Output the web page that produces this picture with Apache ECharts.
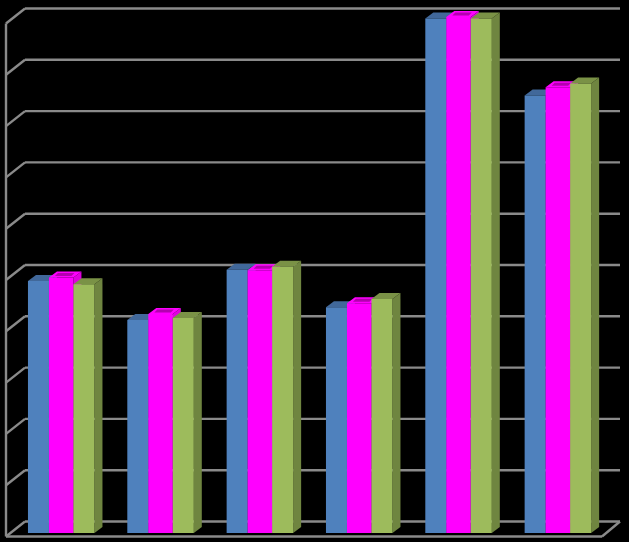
<!DOCTYPE html>
<html><head><meta charset="utf-8">
<style>html,body{margin:0;padding:0;background:#000}#c{width:629px;height:542px}</style>
<script src="https://cdn.jsdelivr.net/npm/echarts@6/dist/echarts.min.js"></script>
</head><body><div id="c"></div>
<script>
const categories = ['1','2','3','4','5','6'];
const seriesBlue = [49.1, 41.5, 51.3, 44.0, 100.3, 85.3];
const seriesMagenta = [49.8, 42.7, 51.2, 44.8, 100.6, 86.9];
const seriesGreen = [48.5, 41.9, 51.9, 45.6, 100.3, 87.6];
const gridTicks = [0,10,20,30,40,50,60,70,80,90,100];

const LINE = '#8a8a8a';
const DX = 8, DY = 6;
const WALL = {dx: 19, back: -11.5, front: 3.5};

function barItem(off, w, front, side, cap, inner) {
  return function (params, api) {
    const c = api.coord([api.value(0), 0]);
    const t = api.coord([api.value(0), api.value(1)]);
    const x0 = c[0] + off, x1 = x0 + w, yb = c[1], yt = t[1];
    const ch = [
      {type:'polygon', shape:{points:[[x1,yb],[x1+DX,yb-DY],[x1+DX,yt-DY],[x1,yt]]}, style:{fill:side}},
      {type:'polygon', shape:{points:[[x0,yt],[x0+DX,yt-DY],[x1+DX,yt-DY],[x1,yt]]}, style:{fill:cap}}
    ];
    if (inner) ch.push({type:'polygon', shape:{points:[[x0+6,yt-1.5],[x0+9,yt-4.5],[x1+1,yt-4.5],[x1-2,yt-1.5]]}, style:{fill:inner}});
    ch.push({type:'rect', shape:{x:x0,y:yt,width:w,height:yb-yt}, style:{fill:front}});
    return {type:'group', children:ch};
  };
}
function barSeries(vals, off, w, front, side, cap, inner, z) {
  return {type:'custom', z, silent:true, clip:false,
    data: vals.map((v,i)=>[categories[i], v]),
    encode:{x:0,y:1},
    renderItem: barItem(off,w,front,side,cap,inner)};
}
const wall = {
  type:'custom', z:1, silent:true, clip:false,
  data: gridTicks.map(t=>[categories[0], t]),
  encode:{x:0,y:1},
  renderItem(params, api){
    const y = api.coord([categories[0], api.value(1)])[1];
    const L = 6, R = 602;
    const ln = (a,b)=>({type:'line', shape:{x1:a[0],y1:a[1],x2:b[0],y2:b[1]}, style:{stroke:LINE,lineWidth:2.4}});
    const ch = [
      ln([L,y+WALL.front],[L+WALL.dx,y+WALL.back]),
      ln([L+WALL.dx,y+WALL.back],[R+WALL.dx-1,y+WALL.back])
    ];
    if (api.value(1) === 0) {
      ch.push(ln([L,y+WALL.front],[R,y+WALL.front]));
      ch.push(ln([R,y+WALL.front],[R+WALL.dx-1,y+WALL.back]));
    }
    if (api.value(1) === 100) {
      const y0 = api.coord([categories[0], 0])[1];
      ch.push(ln([L,y+WALL.front],[L,y0+WALL.front]));
    }
    return {type:'group', children:ch};
  }
};
const chart = echarts.init(document.getElementById('c'), null, {renderer:'canvas'});
chart.setOption({
  animation:false,
  backgroundColor:'#000',
  grid:{left:6, right:27, top:20, bottom:9},
  xAxis:{type:'category', data:categories, axisLine:{show:false}, axisTick:{show:false}, axisLabel:{show:false}, splitLine:{show:false}},
  yAxis:{type:'value', min:0, max:100, interval:10, axisLine:{show:false}, axisTick:{show:false}, axisLabel:{show:false}, splitLine:{show:false}},
  series:[
    wall,
    barSeries(seriesBlue, -27.7, 21, '#4f81bd', '#3c6494', '#41689a', null, 2),
    barSeries(seriesMagenta, -6.7, 24.5, '#ff00ff', '#e000e0', '#ff00ff', '#b400b0', 3),
    barSeries(seriesGreen, 17.8, 21, '#9dbb5c', '#6f8540', '#7a9246', null, 4)
  ]
});
</script></body></html>
